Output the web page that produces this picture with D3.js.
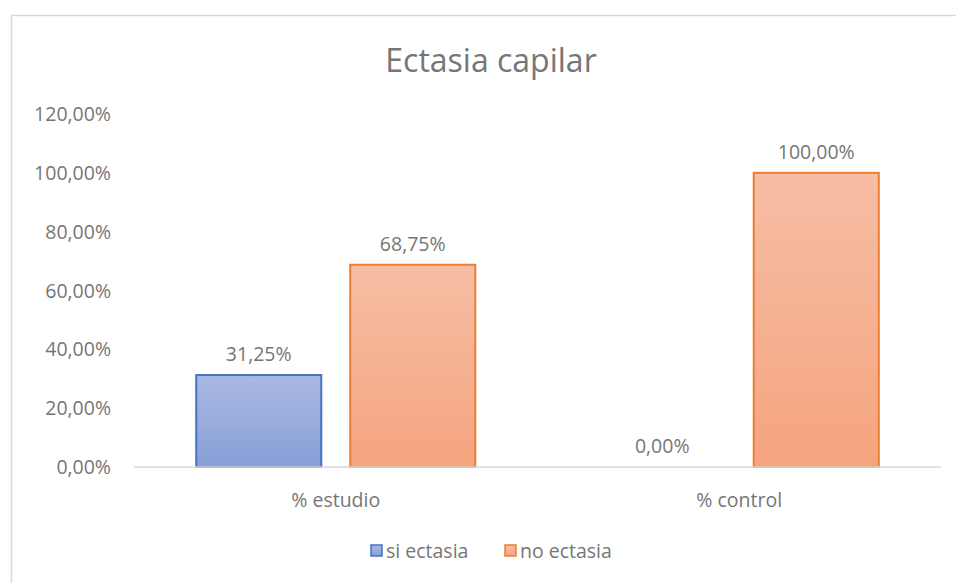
<!DOCTYPE html>
<html>
<head>
<meta charset="utf-8">
<script src="https://cdn.jsdelivr.net/npm/d3@7"></script>
<style>
  body { margin: 0; background: #fff; }
  text { font-family: "Open Sans", "Noto Sans", sans-serif; fill: #767676; }
</style>
</head>
<body>
<div id="chart"></div>
<script>
// data
var categories = ["% estudio", "% control"];
var seriesNames = ["si ectasia", "no ectasia"];
var siValues = [0.3125, 0];
var noValues = [0.6875, 1];
var yTicks = [0, 0.2, 0.4, 0.6, 0.8, 1.0, 1.2];

var fmt = function(v){
  return (v * 100).toFixed(2).replace(".", ",") + "%";
};

function drawChart() {
  const W = 956, H = 583;
  const left = 134, right = 941, top = 114, bottom = 467;

  const svg = d3.select("#chart").append("svg")
    .attr("width", W).attr("height", H);

  // gradients
  var defs = svg.append("defs");
  var grads = [
    {id: "gBlue", top: "#aab8e1", bot: "#87a0d8"},
    {id: "gOrange", top: "#f6bea5", bot: "#f5a47e"}
  ];
  grads.forEach(function(g){
    var lg = defs.append("linearGradient").attr("id", g.id)
      .attr("x1", 0).attr("y1", 0).attr("x2", 0).attr("y2", 1);
    lg.append("stop").attr("offset", "0%").attr("stop-color", g.top);
    lg.append("stop").attr("offset", "100%").attr("stop-color", g.bot);
  });
  var fills = ["url(#gBlue)", "url(#gOrange)"];
  var strokes = ["#4472c4", "#ed7d31"];

  // chart frame
  svg.append("rect")
    .attr("x", 11.5).attr("y", 15.5)
    .attr("width", W + 10).attr("height", H + 10)
    .attr("fill", "none").attr("stroke", "#d9d9d9").attr("stroke-width", 1.5);

  // title
  svg.append("text")
    .attr("x", 491).attr("y", 72)
    .attr("text-anchor", "middle")
    .style("font-size", "32px")
    .text("Ectasia capilar");

  const yScale = d3.scaleLinear().domain([0, 1.2]).range([bottom, top]);

  const xScale = d3.scaleBand()
    .domain(categories)
    .range([left, right]);

  // inner band for the two series
  const xInner = d3.scaleBand()
    .domain(seriesNames)
    .range([0, xScale.bandwidth()])
    .paddingInner(0.188)
    .paddingOuter(0.404);

  // y tick labels
  svg.append("g").selectAll("text")
    .data(yTicks).enter().append("text")
    .attr("x", 111)
    .attr("y", (d) => yScale(d) + 7)
    .attr("text-anchor", "end")
    .style("font-size", "19.5px")
    .text(fmt);

  var rows = [];
  categories.forEach(function(c, i){
    rows.push({cat: c, s: 0, v: siValues[i]});
    rows.push({cat: c, s: 1, v: noValues[i]});
  });

  // bars
  svg.append("g").selectAll("rect")
    .data(rows.filter((d) => d.v > 0)).enter().append("rect")
    .attr("x", (d) => xScale(d.cat) + xInner(seriesNames[d.s]))
    .attr("y", (d) => yScale(d.v))
    .attr("width", xInner.bandwidth())
    .attr("height", (d) => bottom - yScale(d.v))
    .attr("fill", (d) => fills[d.s])
    .attr("stroke", (d) => strokes[d.s])
    .attr("stroke-width", 2);

  // axis line
  svg.append("line")
    .attr("x1", left).attr("x2", right)
    .attr("y1", bottom).attr("y2", bottom)
    .attr("stroke", "#d9d9d9").attr("stroke-width", 1.5);

  // value labels
  svg.append("g").selectAll("text")
    .data(rows).enter().append("text")
    .attr("x", (d) => xScale(d.cat) + xInner(seriesNames[d.s]) + xInner.bandwidth() / 2)
    .attr("y", (d) => yScale(d.v) - 14)
    .attr("text-anchor", "middle")
    .style("font-size", "19.5px")
    .text((d) => fmt(d.v));

  // category labels
  svg.append("g").selectAll("text")
    .data(categories).enter().append("text")
    .attr("x", (d) => xScale(d) + xScale.bandwidth() / 2)
    .attr("y", 507)
    .attr("text-anchor", "middle")
    .style("font-size", "19.5px")
    .text((d) => d);

  // legend
  var legendX = [371, 505];
  var lg = svg.append("g");
  seriesNames.forEach(function(n, i){
    lg.append("rect")
      .attr("x", legendX[i]).attr("y", 545)
      .attr("width", 11).attr("height", 11)
      .attr("fill", fills[i]).attr("stroke", strokes[i]).attr("stroke-width", 1.5);
    lg.append("text")
      .attr("x", legendX[i] + 15).attr("y", 558)
      .style("font-size", "19.5px")
      .text(n);
  });
}

drawChart();
</script>
</body>
</html>
